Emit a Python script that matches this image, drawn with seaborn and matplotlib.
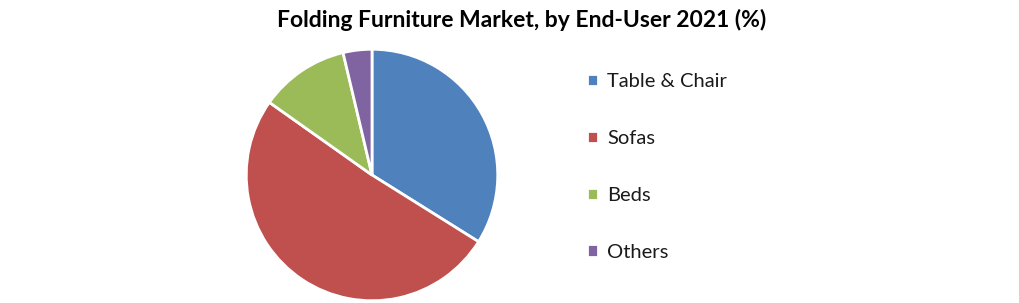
import matplotlib
matplotlib.use("Agg")
import matplotlib.pyplot as plt
import seaborn as sns

sns.set_theme(style="white")
plt.rcParams['font.family'] = ['Lato', 'DejaVu Sans']

categories = ["Table & Chair", "Sofas", "Beds", "Others"]
values = [33.9, 50.9, 11.5, 3.7]
colors = ["#4F81BD", "#C0504D", "#9BBB59", "#8064A2"]
title = "Folding Furniture Market, by End-User 2021 (%)"

fig = plt.figure(figsize=(10.2, 3.03), dpi=100)
ax = fig.add_axes([245/1020, 1/303, 254/1020, 254/303])
wedges, _ = ax.pie(values, colors=colors, startangle=90, counterclock=False,
                   wedgeprops=dict(edgecolor="white", linewidth=2))
ax.set_xlim(-1.01, 1.01)
ax.set_ylim(-1.01, 1.01)
ax.set_aspect("equal")
ax.axis("off")

fig.text(522/1020, 1 - 20/303, title, ha="center", va="center",
         fontsize=16.5, fontweight="bold", color="black")

leg = fig.legend(wedges, categories, loc="upper left",
                 bbox_to_anchor=(579/1020, 1 - 65/303), frameon=False,
                 fontsize=14.5, handlelength=0.55, handleheight=0.55,
                 handletextpad=0.45, labelspacing=1.98, borderaxespad=0)
for t in leg.get_texts():
    t.set_color("#1a1a1a")

fig.savefig("out.png", dpi=100)
